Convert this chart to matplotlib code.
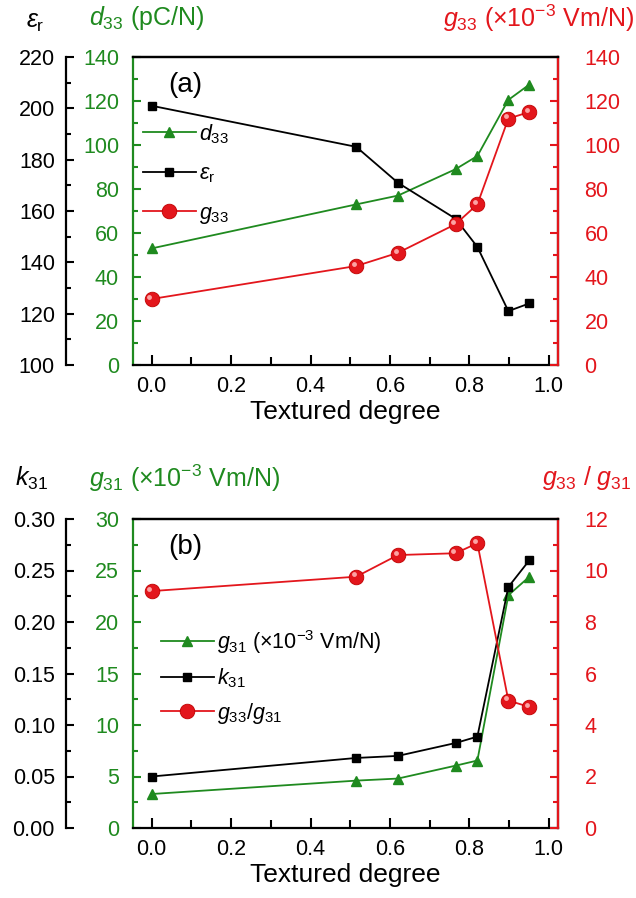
import matplotlib
matplotlib.use("Agg")
import matplotlib.pyplot as plt
import matplotlib.transforms as mtransforms
from matplotlib.ticker import MultipleLocator

plt.rcParams['font.family'] = ['Liberation Sans', 'DejaVu Sans']
plt.rcParams['mathtext.fontset'] = 'custom'
plt.rcParams['mathtext.rm'] = 'Liberation Sans'
plt.rcParams['mathtext.it'] = 'Liberation Sans:italic'
plt.rcParams['mathtext.bf'] = 'Liberation Sans:bold'

# ---------------- data ----------------
textured = [0.0, 0.515, 0.62, 0.765, 0.82, 0.898, 0.951]
# panel (a)
eps_r = [201, 185, 171, 157, 146, 121, 124]
d33 = [53, 73, 77, 89, 95, 120.5, 127.5]
g33 = [30, 45, 51, 64, 73, 112, 115]
# panel (b)
k31 = [0.050, 0.068, 0.070, 0.0825, 0.0887, 0.234, 0.260]
g31 = [3.3, 4.6, 4.8, 6.05, 6.55, 22.6, 24.4]
ratio = [9.2, 9.76, 10.6, 10.67, 11.06, 4.95, 4.7]

GREEN = '#1f8a1f'
RED = '#e3161c'
FS = 15.5
TFS = 18

fig = plt.figure(figsize=(6.36, 8.98), dpi=100)
W, H = 636, 898


def rect(l, r, t, b):
    return [l / W, 1 - b / H, (r - l) / W, (b - t) / H]


def sphere(ax, x, y):
    ax.plot(x, y, '-', color=RED, lw=1.3, marker='o', ms=10.5,
            mfc=RED, mec='#c00000', mew=0.6, zorder=3)
    off = mtransforms.ScaledTranslation(-2.2 / 100, 2.2 / 100, fig.dpi_scale_trans)
    ax.plot(x, y, 'o', ms=3.5, mfc='#ffb3b3', mec='none', alpha=0.9,
            transform=ax.transData + off, zorder=4)


def make_panel(top, bottom, black_lim, black_major, black_minor,
               green_lim, green_major, green_minor,
               red_lim, red_major, red_minor, black_fmt):
    left, right = 133, 558
    axg = fig.add_axes(rect(left, right, top, bottom))
    axb = axg.twinx()
    axr = axg.twinx()
    # black axis on the left, outside
    axb.yaxis.tick_left()
    axb.spines['left'].set_position(('axes', (66 - left) / (right - left)))
    axb.spines['left'].set_visible(True)
    for s in ['right', 'top', 'bottom']:
        axb.spines[s].set_visible(False)
    axr.spines['left'].set_visible(False)
    axr.spines['bottom'].set_visible(False)
    axr.spines['top'].set_visible(True)
    axr.spines['top'].set_color('black')

    for a in (axg, axb, axr):
        for s in a.spines.values():
            s.set_linewidth(1.6)
    axg.spines['left'].set_color(GREEN)
    axr.spines['right'].set_color(RED)
    axb.spines['left'].set_color('black')

    axg.set_xlim(-0.047, 1.023)
    axg.xaxis.set_major_locator(MultipleLocator(0.2))
    axg.xaxis.set_minor_locator(MultipleLocator(0.1))
    axg.xaxis.set_major_formatter(matplotlib.ticker.FormatStrFormatter('%.1f'))
    axg.tick_params(axis='x', which='both', direction='in', top=False,
                    labelsize=FS, pad=8, width=1.5)
    axg.tick_params(axis='x', which='major', length=7.5)
    axg.tick_params(axis='x', which='minor', length=6)
    axg.set_xlabel('Textured degree', fontsize=19, labelpad=2)

    axg.set_ylim(*green_lim)
    axg.yaxis.set_major_locator(MultipleLocator(green_major))
    axg.yaxis.set_minor_locator(MultipleLocator(green_minor))
    axg.tick_params(axis='y', which='both', direction='in', colors=GREEN,
                    labelsize=FS, pad=10, width=1.5)
    axg.tick_params(axis='y', which='major', length=6)
    axg.tick_params(axis='y', which='minor', length=3.5)

    axb.set_ylim(*black_lim)
    axb.yaxis.set_major_locator(MultipleLocator(black_major))
    axb.yaxis.set_minor_locator(MultipleLocator(black_minor))
    axb.yaxis.set_major_formatter(matplotlib.ticker.FormatStrFormatter(black_fmt))
    axb.tick_params(axis='y', which='both', direction='in', colors='black',
                    labelsize=FS, pad=8, width=1.5, left=True, right=False,
                    labelleft=True, labelright=False)
    axb.tick_params(axis='y', which='major', length=6)
    axb.tick_params(axis='y', which='minor', length=3.5)

    axr.set_ylim(*red_lim)
    axr.yaxis.set_major_locator(MultipleLocator(red_major))
    axr.yaxis.set_minor_locator(MultipleLocator(red_minor))
    axr.tick_params(axis='y', which='both', direction='in', colors=RED,
                    labelsize=FS, pad=19, width=1.5)
    axr.tick_params(axis='y', which='major', length=6)
    axr.tick_params(axis='y', which='minor', length=3.5)
    return axg, axb, axr


legend_kw = dict(loc='upper left', frameon=False, fontsize=FS,
                 handlelength=2.45, handletextpad=0.15, borderaxespad=0.0,
                 borderpad=0.0)

# ---------------- panel (a) ----------------
axg, axb, axr = make_panel(57, 365, (100, 220), 20, 10, (0, 140), 20, 10,
                           (0, 140), 20, 10, '%d')
l1, = axg.plot(textured, d33, '-', color=GREEN, lw=1.3, marker='^', ms=6.5,
               mfc=GREEN, mec=GREEN)
l2, = axb.plot(textured, eps_r, '-', color='black', lw=1.3, marker='s', ms=5.5,
               mfc='black', mec='black')
sphere(axr, textured, g33)
l3 = matplotlib.lines.Line2D([], [], color=RED, lw=1.3, marker='o', ms=10.5,
                             mfc=RED, mec='#c00000', mew=0.6)
axr.legend([l1, l2, l3], ['$d_{33}$', r'$\epsilon_{\mathrm{r}}$', '$g_{33}$'],
           bbox_to_anchor=((143 - 133) / 425, (365 - 122) / 308),
           labelspacing=0.82, **legend_kw)
axr.text(0.082, 0.91, '(a)', transform=axr.transAxes, fontsize=20,
         ha='left', va='center')

fig.text(35 / W, 1 - 22 / H, r'$\epsilon_{\mathrm{r}}$', fontsize=TFS,
         ha='center', va='center')
fig.text(89 / W, 1 - 18 / H, '$d_{33}$ (pC/N)', fontsize=TFS, color=GREEN,
         ha='left', va='center')
fig.text(634 / W, 1 - 18 / H, '$g_{33}$ (×10$^{-3}$ Vm/N)', fontsize=TFS,
         color=RED, ha='right', va='center')

# ---------------- panel (b) ----------------
bxg, bxb, bxr = make_panel(519, 828, (0, 0.30), 0.05, 0.025, (0, 30), 5, 2.5,
                           (0, 12), 2, 1, '%.2f')
m1, = bxg.plot(textured, g31, '-', color=GREEN, lw=1.3, marker='^', ms=6.5,
               mfc=GREEN, mec=GREEN, zorder=3)
m2, = bxb.plot(textured, k31, '-', color='black', lw=1.3, marker='s', ms=5.5,
               mfc='black', mec='black')
sphere(bxr, textured, ratio)
bxr.legend([m1, m2, l3],
           ['$g_{31}$ (×10$^{-3}$ Vm/N)', '$k_{31}$', '$g_{33}$/$g_{31}$'],
           bbox_to_anchor=((161 - 133) / 425, (828 - 628) / 309),
           labelspacing=0.5, **legend_kw)
bxr.text(0.082, 0.91, '(b)', transform=bxr.transAxes, fontsize=20,
         ha='left', va='center')

fig.text(32 / W, 1 - 478 / H, '$k_{31}$', fontsize=TFS, ha='center', va='center')
fig.text(89 / W, 1 - 478 / H, '$g_{31}$ (×10$^{-3}$ Vm/N)', fontsize=TFS,
         color=GREEN, ha='left', va='center')
fig.text(631 / W, 1 - 478 / H, '$g_{33}$ / $g_{31}$', fontsize=TFS,
         color=RED, ha='right', va='center')

fig.savefig('out.png', dpi=100)
